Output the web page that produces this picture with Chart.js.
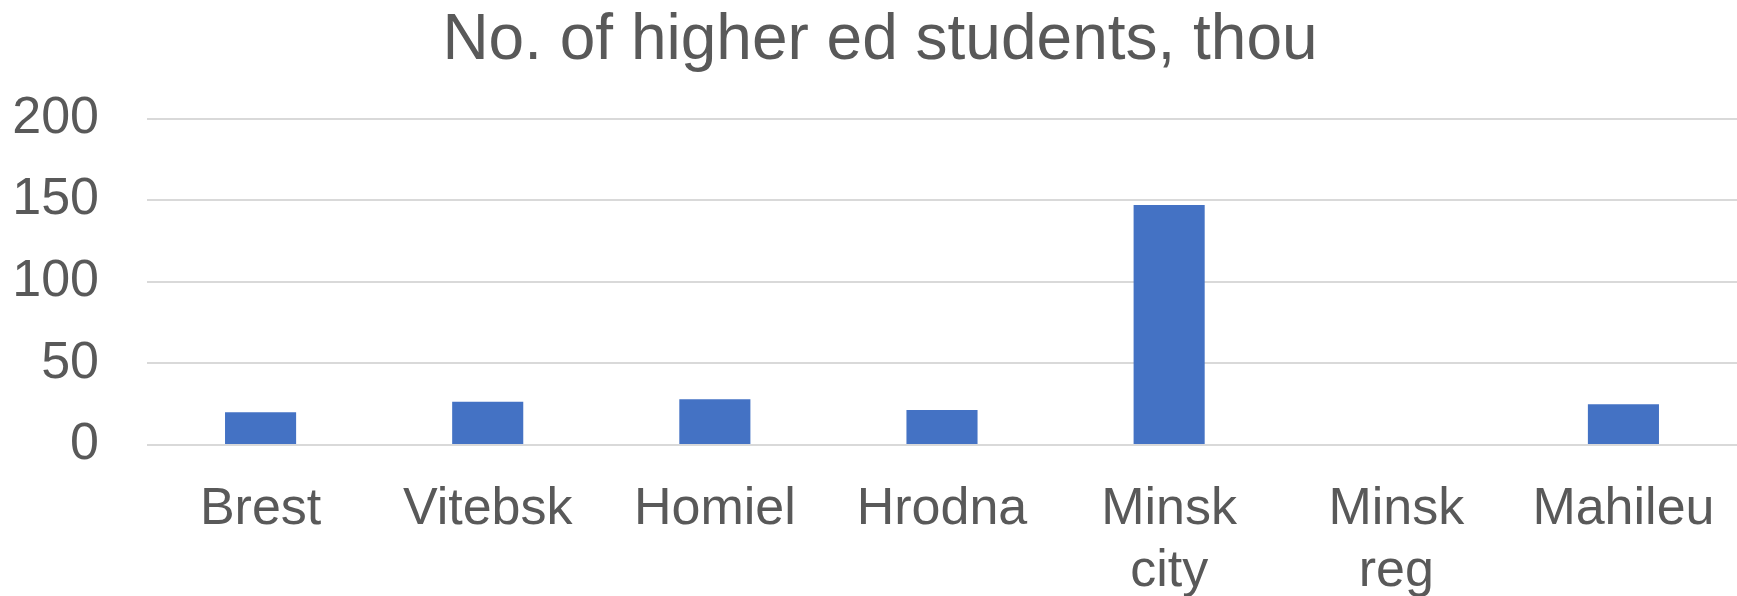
<!DOCTYPE html>
<html>
<head>
<meta charset="utf-8">
<script src="https://cdn.jsdelivr.net/npm/chart.js@4/dist/chart.umd.min.js"></script>
<style>
  html, body { margin: 0; padding: 0; background: #fff; }
  #wrap { width: 1737px; height: 596px; position: relative; }
</style>
</head>
<body>
<div id="wrap"><canvas id="chart"></canvas></div>
<script>
const regions = ["Brest", "Vitebsk", "Homiel", "Hrodna", ["Minsk", "city"], ["Minsk", "reg"], "Mahileu"];
const students = [20, 26.5, 28, 21.5, 147, null, 25];
const yTicks = [0, 50, 100, 150, 200];

const textColor = "#595959";
const gridColor = "#d9d9d9";
const font = "'Liberation Sans', Arial, sans-serif";

// excel centres the title a bit right of the canvas middle
const shiftTitle = {
  id: "shiftTitle",
  afterLayout(chart) {
    if (chart.titleBlock) chart.titleBlock.left = 23;
  },
};

new Chart(document.getElementById("chart"), {
  type: "bar",
  data: {
    labels: regions,
    datasets: [
      {
        label: "No. of higher ed students, thou",
        data: students,
        backgroundColor: "#4472c4",
        borderWidth: 0,
        categoryPercentage: 1,
        barPercentage: 0.313,
      },
    ],
  },
  options: {
    responsive: true,
    maintainAspectRatio: false,
    animation: false,
    layout: { padding: 0 },
    plugins: {
      legend: { display: false },
      tooltip: { enabled: false },
      title: {
        display: true,
        text: "No. of higher ed students, thou",
        color: textColor,
        font: { family: font, size: 64, weight: "normal", lineHeight: 1.2 },
        padding: { top: 3, bottom: 38.7 },
      },
    },
    scales: {
      x: {
        grid: { display: false, drawTicks: false },
        border: { display: false },
        ticks: {
          color: textColor,
          font: { family: font, size: 52, lineHeight: 1.2 },
          padding: 33,
          maxRotation: 0,
          autoSkip: false,
        },
        afterFit: (scale) => {
          scale.height = 151;
          scale.paddingLeft = 0;
          scale.paddingRight = 0;
        },
      },
      y: {
        min: yTicks[0],
        max: yTicks[yTicks.length - 1],
        grid: { color: gridColor, lineWidth: 2, drawTicks: false },
        border: { display: false },
        afterBuildTicks: (scale) => { scale.ticks = yTicks.map((v) => ({ value: v })); },
        ticks: {
          color: textColor,
          font: { family: font, size: 52 },
          padding: 48,
        },
        afterFit: (scale) => {
          scale.width = 147;
          scale.paddingTop = 0;
          scale.paddingBottom = 0;
        },
      },
    },
  },
  plugins: [shiftTitle],
});
</script>
</body>
</html>
